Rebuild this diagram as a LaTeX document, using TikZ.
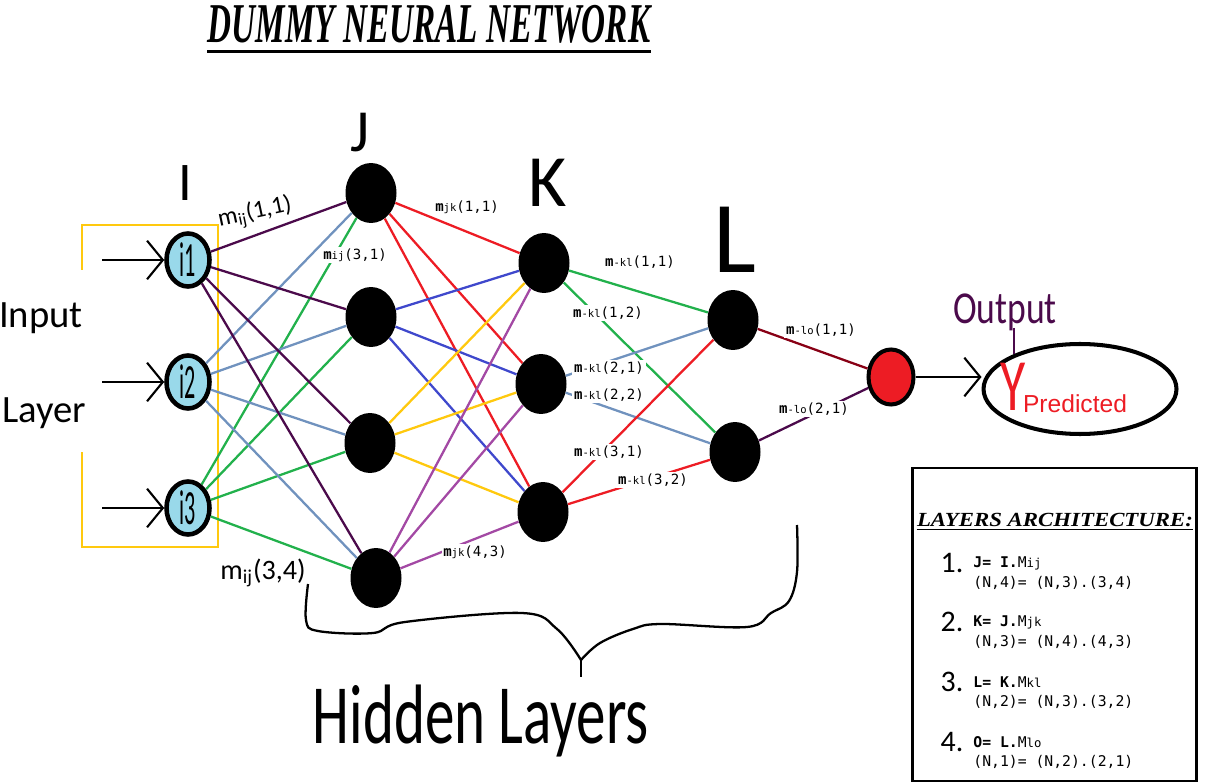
\documentclass[tikz,border=0pt]{standalone}
\usepackage{fontspec}
\usetikzlibrary{shapes.geometric,arrows.meta}
\newfontfamily\handf{Carlito}
\newfontfamily\monof{DejaVu Sans Mono}
\newfontfamily\titlef{Liberation Serif}
\newfontfamily\predf{Liberation Sans}
\definecolor{dpurple}{RGB}{75,10,75}
\definecolor{sblue}{RGB}{112,146,190}
\definecolor{pgreen}{RGB}{34,177,76}
\definecolor{pred}{RGB}{237,28,36}
\definecolor{pblue}{RGB}{63,72,204}
\definecolor{pyellow}{RGB}{255,201,14}
\definecolor{ppurple}{RGB}{163,73,164}
\definecolor{dred}{RGB}{136,0,21}
\definecolor{lblue}{RGB}{153,217,234}
% weight label: bold m, small index, (a,b)
\newcommand{\wlab}[2]{\textbf{m}{\fontsize{6}{6}\selectfont #1}(#2)}
\newcommand{\fsz}[1]{\fontsize{#1}{#1}\selectfont}

\begin{document}
\begin{tikzpicture}[x=0.02cm, y=-0.02cm,
    neuron/.style={ellipse, fill=black, minimum width=1.02cm, minimum height=1.2cm, inner sep=0pt}, % hidden units
    innode/.style={ellipse, draw=black, line width=2.6pt, fill=lblue, minimum width=0.86cm, minimum height=1.06cm, inner sep=0pt}, % input units
    link/.style={line width=1.3pt},
    wt/.style={font=\monof\fontsize{8}{9}\selectfont, fill=white, inner sep=1pt}, % weight labels
    hand/.style={font=\handf, inner sep=0pt},
    feed/.style={line width=1.2pt, -{Straight Barb[length=9pt,width=22pt,line width=1.2pt]}}
]
\useasboundingbox (0,0) rectangle (1216,783);

% title
\node[font=\titlef\bfseries\itshape\fontsize{32}{34}\selectfont, inner sep=0pt] (title) at (429,24) {\scalebox{0.59}[1]{DUMMY NEURAL NETWORK}};
\draw[line width=1.6pt] ([yshift=-4.5pt]title.south west) -- ([yshift=-4.5pt]title.south east);

% input layer frame (open on the left)
\draw[pyellow, line width=1.7pt] (82,270) -- (82,225) -- (218,225) -- (218,547) -- (82,547) -- (82,452);

% units
\node[innode] (i1) at (188,260) {\handf\scalebox{0.45}[1]{\fsz{28}i1}};
\node[innode] (i2) at (188,382) {\handf\scalebox{0.45}[1]{\fsz{28}i2}};
\node[innode] (i3) at (188,508) {\handf\scalebox{0.45}[1]{\fsz{28}i3}};

\node[neuron] (j1) at (371,193) {};
\node[neuron] (j2) at (371,317) {};
\node[neuron] (j3) at (370,443) {};
\node[neuron] (j4) at (376,578) {};

\node[neuron] (k1) at (544,263) {};
\node[neuron] (k2) at (541,384) {};
\node[neuron] (k3) at (543,512) {};

\node[neuron] (l1) at (733,320) {};
\node[neuron] (l2) at (735,452) {};

\node[ellipse, draw=black, line width=2.3pt, fill=pred, minimum width=0.9cm, minimum height=1.1cm, inner sep=0pt] (o) at (891,377) {};
\node[ellipse, draw=black, line width=2.3pt, minimum width=3.86cm, minimum height=1.8cm] (yhat) at (1080,389) {};

% inputs coming in
\coordinate (s1) at (102,260);
\coordinate (s2) at (102,382);
\coordinate (s3) at (102,508);
\foreach \n in {1,2,3}
    \draw[feed] (s\n) -- (i\n);

% I -> J
\foreach \j in {1,...,4} {
    \draw[link, dpurple] (i1) -- (j\j);
    \draw[link, sblue] (i2) -- (j\j);
    \draw[link, pgreen] (i3) -- (j\j);
}
% J -> K
\foreach \j/\c in {1/pred, 2/pblue, 3/pyellow, 4/ppurple}
    \foreach \k in {1,2,3}
        \draw[link, \c] (j\j) -- (k\k);
% K -> L
\foreach \k/\c in {1/pgreen, 2/sblue, 3/pred}
    \foreach \l in {1,2}
        \draw[link, \c] (k\k) -- (l\l);
% L -> O
\draw[link, dred] (l1) -- (o);
\draw[link, dpurple] (l2) -- (o);

% output
\draw[feed] (o.east) -- (o.east -| yhat.west);

% weight labels
\node[wt] (w1) at (355,255) {\wlab{ij}{3,1}};
\node[wt] (w2) at (467,207) {\wlab{jk}{1,1}};
\node[wt] (w3) at (475,552) {\wlab{jk}{4,3}};
\node[wt] (w4) at (640,262) {\wlab{-kl}{1,1}};
\node[wt] (w5) at (608,313) {\wlab{-kl}{1,2}};
\node[wt] (w6) at (609,368) {\wlab{-kl}{2,1}};
\node[wt] (w7) at (609,395) {\wlab{-kl}{2,2}};
\node[wt] (w8) at (609,452) {\wlab{-kl}{3,1}};
\node[wt] (w9) at (653,480) {\wlab{-kl}{3,2}};
\node[wt] (w10) at (821,330) {\wlab{-lo}{1,1}};
\node[wt] (w11) at (814,409) {\wlab{-lo}{2,1}};
\node[hand, rotate=12] (h1) at (255,213) {\fsz{14}m\textsubscript{ij}(1,1)};
\node[hand] (h2) at (263,573) {\fsz{16}m\textsubscript{ij}(3,4)};

% layer names
\node[hand] (tI) at (185,183) {\fsz{31}I};
\node[hand] (tJ) at (360,133) {\fsz{34}J};
\node[hand] (tK) at (548,183) {\fsz{42}K};
\node[hand] (tL) at (735,240) {\fsz{58}L};
\node[hand] (tin) at (41,318) {\fsz{22}Input};
\node[hand] (tlay) at (44,413) {\fsz{22}Layer};

% brace under hidden layers
\coordinate (tip) at (581,660);
\draw[line width=1.3pt] plot[smooth, tension=0.6] coordinates {(308,584) (306,620) (318,631) (373,633) (405,622) (522,613) (557,629) (tip)};
\draw[line width=1.3pt] plot[smooth, tension=0.6] coordinates {(tip) (600,643) (633,629) (661,624) (747,627) (771,613) (789,601) (797,572) (797,525)};
\draw[line width=1.3pt] (tip) -- ++(0,17);
\node[hand] (thid) at (481,721) {\fsz{48}\scalebox{0.7}[1]{Hidden Layers}};

% output label
\node[hand, text=dpurple] (tout) at (1005,312) {\fsz{26}\scalebox{0.78}[1]{Output}};
\coordinate (pstem) at (1014,328);
\coordinate (pfoot) at (1014,354);
\draw[dpurple, line width=1.2pt] (pstem) -- (pfoot);
\node[hand, text=pred] (ysym) at (1013,387) {\fsz{42}\scalebox{0.7}[1]{Y}};
\node[text=pred, font=\predf\fontsize{14}{14}\selectfont, inner sep=0pt] (ptxt) at (1075,404) {Predicted};

% architecture box
\draw[line width=1.7pt] (912,468) rectangle (1196,781);
\node[font=\titlef\bfseries\itshape\fontsize{11.4}{12}\selectfont, inner sep=0pt] (arch) at (1055,520) {\scalebox{1.14}[1]{LAYERS ARCHITECTURE:}};
\draw[line width=1pt] ([yshift=-1.3pt]arch.south west) -- ([yshift=-1.3pt]arch.south east);
\foreach \n/\y/\a/\b in {
    1/563/{\textbf{J= I.}M{\scriptsize ij}}/{(N,4)= (N,3).(3,4)},
    2/622/{\textbf{K= J.}M{\scriptsize jk}}/{(N,3)= (N,4).(4,3)},
    3/682/{\textbf{L= K.}M{\scriptsize kl}}/{(N,2)= (N,3).(3,2)},
    4/742/{\textbf{O= L.}M{\scriptsize lo}}/{(N,1)= (N,2).(2,1)}} {
    \node[hand] (num\n) at (952,\y) {\fsz{17}\n.};
    \node[anchor=west, font=\monof\fontsize{8.4}{9}\selectfont, inner sep=0pt] (ra\n) at (973,\y) {\a};
    \node[anchor=west, font=\monof\fontsize{8.4}{9}\selectfont, inner sep=0pt] (rb\n) at (973,\y+20) {\b};
}

\end{tikzpicture}
\end{document}
